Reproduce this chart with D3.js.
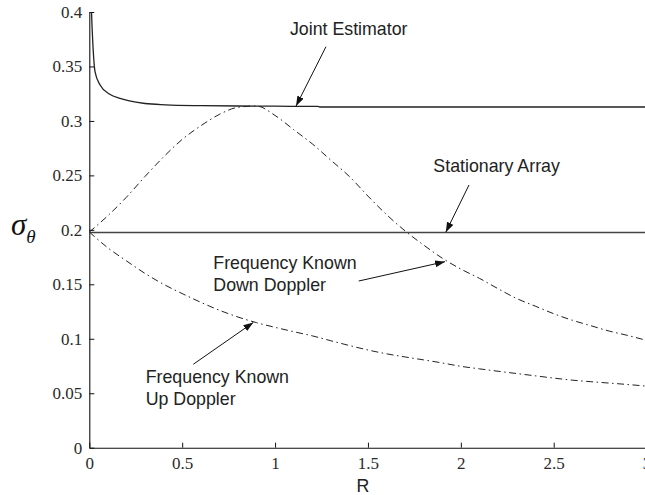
<!DOCTYPE html>
<html>
<head>
<meta charset="utf-8">
<script src="https://cdn.jsdelivr.net/npm/d3@7"></script>
<style>
  html, body { margin: 0; padding: 0; background: #fff; }
  svg { display: block; }
</style>
</head>
<body>
<script>
// Angle-estimate standard deviation versus R for four estimators.
const jointR = [0.004, 0.012, 0.021, 0.031, 0.058, 0.11, 0.165, 0.21, 0.3, 0.41, 0.6, 0.8, 1.0, 1.23, 1.24, 1.5, 2.0, 2.5, 3.0];
const jointSigma = [0.45, 0.4, 0.365, 0.345, 0.333, 0.3245, 0.3207, 0.3186, 0.3160, 0.3148, 0.3140, 0.3137, 0.3135, 0.3133, 0.3128, 0.3128, 0.3128, 0.3128, 0.3128];

const gridR = [0, 0.1, 0.2, 0.3, 0.4, 0.5, 0.6, 0.7, 0.8, 0.9, 1.0, 1.1, 1.2, 1.3, 1.4, 1.5, 1.6, 1.7, 1.8, 1.9, 2.0, 2.1, 2.2, 2.3, 2.4, 2.5, 2.6, 2.7, 2.8, 2.9, 3.0];
const downDopplerSigma = [0.198, 0.213, 0.230, 0.249, 0.267, 0.283, 0.2955, 0.306, 0.3125, 0.3137, 0.305, 0.292, 0.279, 0.264, 0.249, 0.231, 0.214, 0.199, 0.186, 0.174, 0.164, 0.1555, 0.146, 0.137, 0.130, 0.123, 0.117, 0.112, 0.107, 0.103, 0.0985];
const upDopplerSigma = [0.198, 0.1835, 0.1715, 0.160, 0.150, 0.1415, 0.1335, 0.1262, 0.1200, 0.1148, 0.1105, 0.1065, 0.1027, 0.0982, 0.0938, 0.0897, 0.0862, 0.0833, 0.0806, 0.0778, 0.0747, 0.0724, 0.0702, 0.0681, 0.0660, 0.0639, 0.0620, 0.0606, 0.0593, 0.0580, 0.0565];

const stationaryR = [0, 3];
const stationarySigma = [0.1976, 0.1976];

const xTicks = [0, 0.5, 1, 1.5, 2, 2.5, 3];
const xTickLabels = ["0", "0.5", "1", "1.5", "2", "2.5", "3"];
const yTicks = [0, 0.05, 0.1, 0.15, 0.2, 0.25, 0.3, 0.35, 0.4];
const yTickLabels = ["0", "0.05", "0.1", "0.15", "0.2", "0.25", "0.3", "0.35", "0.4"];

// Callouts: text anchor, arrow tail and arrow tip, all in data units (R, sigma).
const callouts = [
  { lines: ["Joint Estimator"], textAt: [1.080, 0.3793], tail: [1.274, 0.3681], tip: [1.113, 0.3137] },
  { lines: ["Stationary Array"], textAt: [1.852, 0.2534], tail: [2.044, 0.2412], tip: [1.919, 0.1978] },
  { lines: ["Frequency Known", "Down Doppler"], textAt: [0.6675, 0.1636], tail: [1.450, 0.1530], tip: [1.915, 0.1708] },
  { lines: ["Frequency Known", "Up Doppler"], textAt: [0.3036, 0.0591], tail: [0.560, 0.0766], tip: [0.883, 0.1150] }
];

const W = 645, H = 495;
const svg = d3.select("body").append("svg").attr("width", W).attr("height", H);

const x = d3.scaleLinear().domain([0, 3]).range([89.3, 646.6]);
const y = d3.scaleLinear().domain([0, 0.4]).range([447.7, 12]);

const defs = svg.append("defs");
defs.append("clipPath").attr("id", "plot-clip")
  .append("rect").attr("x", x(0)).attr("y", y(0.4)).attr("width", x(3) - x(0)).attr("height", y(0) - y(0.4));
defs.append("marker")
  .attr("id", "arrowhead").attr("markerUnits", "userSpaceOnUse")
  .attr("viewBox", "0 0 10 7").attr("refX", 10).attr("refY", 3.5)
  .attr("markerWidth", 10).attr("markerHeight", 7).attr("orient", "auto")
  .append("path").attr("d", "M0,0 L10,3.5 L0,7 Z").attr("fill", "#111");

const serif = "'Liberation Serif', 'Times New Roman', serif";
const sans = "'Liberation Sans', Arial, sans-serif";

// Axes: ticks point inward, no box on the top/right.
const xAxis = d3.axisBottom(x).tickValues(xTicks)
  .tickFormat((d, i) => xTickLabels[i]).tickSizeInner(-5).tickSizeOuter(0).tickPadding(9);
const yAxis = d3.axisLeft(y).tickValues(yTicks)
  .tickFormat((d, i) => yTickLabels[i]).tickSizeInner(-5).tickSizeOuter(0).tickPadding(7);

const gx = svg.append("g").attr("transform", `translate(0,${y(0)})`).call(xAxis);
const gy = svg.append("g").attr("transform", `translate(${x(0)},0)`).call(yAxis);
[gx, gy].forEach(g => {
  g.attr("font-family", null);
  g.selectAll("path.domain").attr("stroke", "#111").attr("stroke-width", 1.1);
  g.selectAll(".tick line").attr("stroke", "#111").attr("stroke-width", 1);
  g.selectAll(".tick text")
    .style("font-family", serif).style("font-size", "17px").attr("fill", "#2a2a2a");
});

// Curves
const plot = svg.append("g").attr("clip-path", "url(#plot-clip)");
const line = d3.line().x(d => x(d[0])).y(d => y(d[1])).curve(d3.curveMonotoneX);
const zip = (a, b) => a.map((v, i) => [v, b[i]]);

plot.append("path").datum(zip(stationaryR, stationarySigma))
  .attr("d", line).attr("fill", "none").attr("stroke", "#444").attr("stroke-width", 1.4);
plot.append("path").datum(zip(jointR, jointSigma))
  .attr("d", line).attr("fill", "none").attr("stroke", "#222").attr("stroke-width", 1.3);
plot.append("path").datum(zip(gridR, downDopplerSigma))
  .attr("d", line).attr("fill", "none").attr("stroke", "#222").attr("stroke-width", 1)
  .attr("stroke-dasharray", "7,3.5,1.5,3.5");
plot.append("path").datum(zip(gridR, upDopplerSigma))
  .attr("d", line).attr("fill", "none").attr("stroke", "#222").attr("stroke-width", 1)
  .attr("stroke-dasharray", "7,3.5,1.5,3.5");

// Callout labels and arrows
const notes = svg.append("g");
callouts.forEach(c => {
  const t = notes.append("text")
    .attr("x", x(c.textAt[0])).attr("y", y(c.textAt[1]))
    .style("font-family", sans).style("font-size", "17.8px").attr("fill", "#222");
  c.lines.forEach((s, i) => {
    t.append("tspan").attr("x", x(c.textAt[0])).attr("dy", i === 0 ? 0 : 22).text(s);
  });
  notes.append("line")
    .attr("x1", x(c.tail[0])).attr("y1", y(c.tail[1]))
    .attr("x2", x(c.tip[0])).attr("y2", y(c.tip[1]))
    .attr("stroke", "#111").attr("stroke-width", 1)
    .attr("marker-end", "url(#arrowhead)");
});

// Axis titles
svg.append("text").attr("x", x(1.5) - 5).attr("y", 492)
  .attr("text-anchor", "middle").style("font-family", sans).style("font-size", "17.8px")
  .attr("fill", "#222").text("R");
const yl = svg.append("text").attr("x", 11).attr("y", 235)
  .style("font-family", serif).style("font-style", "italic").attr("fill", "#111");
yl.append("tspan").style("font-size", "31px").text("σ");
yl.append("tspan").style("font-size", "19px").attr("dy", 8).text("θ");
</script>
</body>
</html>
